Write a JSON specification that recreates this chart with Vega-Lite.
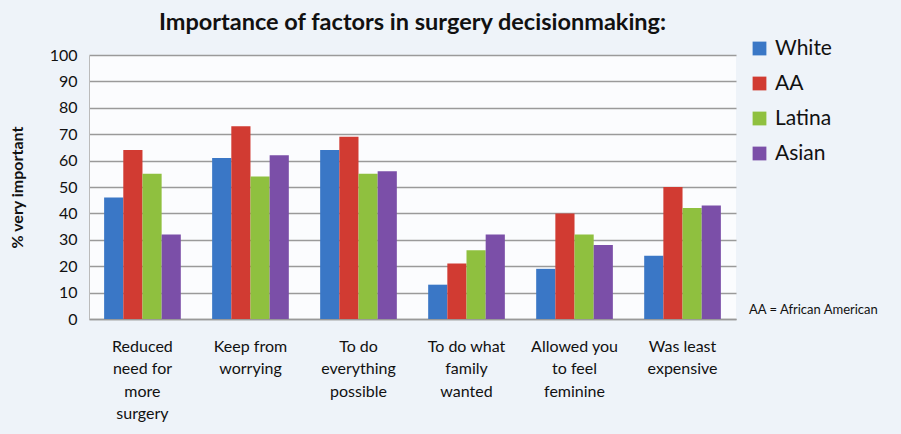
{
  "$schema": "https://vega.github.io/schema/vega-lite/v6.json",
  "width": 647,
  "height": 264,
  "autosize": {"type": "none"},
  "padding": {"left": 89, "top": 55, "right": 165, "bottom": 115},
  "background": "#eef3f9",
  "title": {
    "text": "Importance of factors in surgery decisionmaking:",
    "font": "Lato",
    "fontSize": 23.5,
    "fontWeight": "bold",
    "color": "#111111",
    "anchor": "middle",
    "offset": 4
  },
  "data": {
    "values": [
      {"factor": "Reduced|need for|more|surgery", "group": "White", "pct": 46},
      {"factor": "Reduced|need for|more|surgery", "group": "AA", "pct": 64},
      {"factor": "Reduced|need for|more|surgery", "group": "Latina", "pct": 55},
      {"factor": "Reduced|need for|more|surgery", "group": "Asian", "pct": 32},
      {"factor": "Keep from|worrying", "group": "White", "pct": 61},
      {"factor": "Keep from|worrying", "group": "AA", "pct": 73},
      {"factor": "Keep from|worrying", "group": "Latina", "pct": 54},
      {"factor": "Keep from|worrying", "group": "Asian", "pct": 62},
      {"factor": "To do|everything|possible", "group": "White", "pct": 64},
      {"factor": "To do|everything|possible", "group": "AA", "pct": 69},
      {"factor": "To do|everything|possible", "group": "Latina", "pct": 55},
      {"factor": "To do|everything|possible", "group": "Asian", "pct": 56},
      {"factor": "To do what|family|wanted", "group": "White", "pct": 13},
      {"factor": "To do what|family|wanted", "group": "AA", "pct": 21},
      {"factor": "To do what|family|wanted", "group": "Latina", "pct": 26},
      {"factor": "To do what|family|wanted", "group": "Asian", "pct": 32},
      {"factor": "Allowed you|to feel|feminine", "group": "White", "pct": 19},
      {"factor": "Allowed you|to feel|feminine", "group": "AA", "pct": 40},
      {"factor": "Allowed you|to feel|feminine", "group": "Latina", "pct": 32},
      {"factor": "Allowed you|to feel|feminine", "group": "Asian", "pct": 28},
      {"factor": "Was least|expensive", "group": "White", "pct": 24},
      {"factor": "Was least|expensive", "group": "AA", "pct": 50},
      {"factor": "Was least|expensive", "group": "Latina", "pct": 42},
      {"factor": "Was least|expensive", "group": "Asian", "pct": 43}
    ]
  },
  "mark": {"type": "bar"},
  "encoding": {
    "x": {
      "field": "factor",
      "type": "nominal",
      "sort": null,
      "scale": {"paddingInner": 0.29, "paddingOuter": 0.14},
      "axis": {
        "title": null,
        "labelExpr": "split(datum.label, '|')",
        "labelAngle": 0,
        "labelFont": "Lato",
        "labelFontSize": 16,
        "labelLineHeight": 22.5,
        "labelColor": "#111111",
        "labelPadding": 19,
        "ticks": false,
        "domainColor": "#999999",
        "domainWidth": 1.5,
        "labelBaseline": "top"
      }
    },
    "xOffset": {"field": "group", "type": "nominal", "sort": ["White", "AA", "Latina", "Asian"], "scale": {"paddingInner": 0, "paddingOuter": 0}},
    "y": {
      "field": "pct",
      "type": "quantitative",
      "scale": {"domain": [0, 100]},
      "axis": {
        "title": "% very important",
        "titleFont": "Lato",
        "titleFontSize": 16,
        "titleFontWeight": "bold",
        "titleColor": "#111111",
        "titlePadding": 24,
        "values": [0, 10, 20, 30, 40, 50, 60, 70, 80, 90, 100],
        "labelFont": "Lato",
        "labelFontSize": 16,
        "labelColor": "#111111",
        "labelPadding": 12,
        "ticks": false,
        "grid": true,
        "gridColor": "#9a9a9a",
        "gridWidth": 1.5,
        "domainColor": "#bbbbbb",
        "domainWidth": 1
      }
    },
    "color": {
      "field": "group",
      "type": "nominal",
      "sort": ["White", "AA", "Latina", "Asian"],
      "scale": {"domain": ["White", "AA", "Latina", "Asian"], "range": ["#3a77c6", "#d13b32", "#8fc03f", "#7b4fa8"]},
      "legend": {
        "orient": "none",
        "legendX": 660,
        "legendY": -17,
        "title": "AA = African American",
        "titleOrient": "bottom",
        "titlePadding": 140,
        "titleFont": "Lato",
        "titleFontSize": 13,
        "titleFontWeight": "normal",
        "titleColor": "#111111",
        "symbolType": "square",
        "symbolSize": 190,
        "symbolStrokeWidth": 0,
        "labelFont": "Lato",
        "labelFontSize": 21,
        "labelColor": "#111111",
        "labelOffset": 5,
        "rowPadding": 13
      }
    }
  },
  "config": {
    "view": {"stroke": null, "fill": "#fbfcfe"}
  }
}
